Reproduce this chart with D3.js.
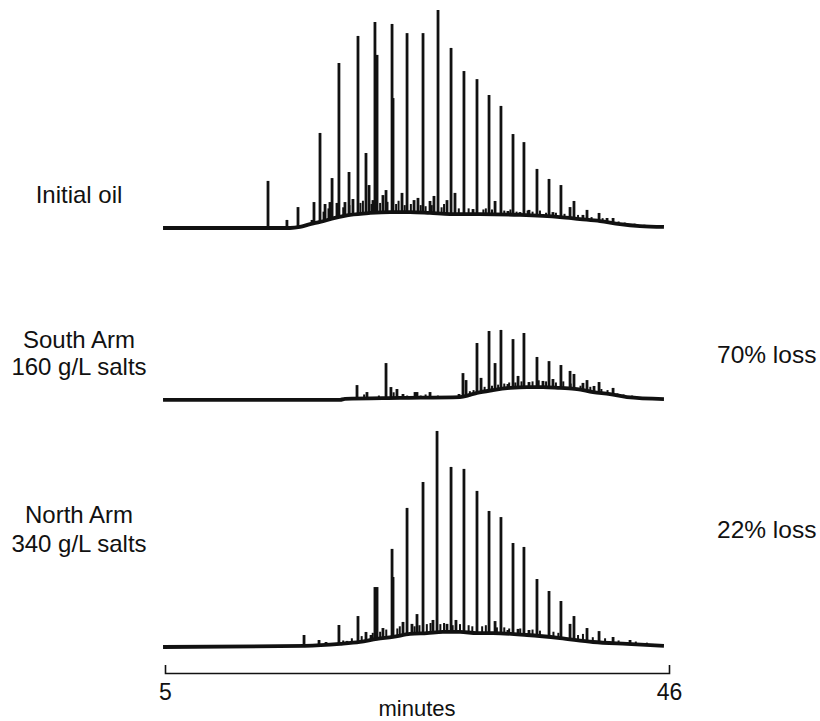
<!DOCTYPE html>
<html lang="en">
  <head>
    <meta charset="utf-8">
    <title>Chromatograms - initial oil, South Arm, North Arm</title>
    <style>
      body { margin: 0; background: #fff; }
      text { font-family: "Liberation Sans", Arial, sans-serif; fill: #111; }
    </style>
  </head>
  <body>
    <div id="container"></div>

    <script src="https://cdnjs.cloudflare.com/ajax/libs/d3/7.8.5/d3.min.js"></script>
    <script type="text/javascript">
      // retention time (min) / relative response (tallest initial-oil peak = 100)
      var initialPeaks = [
        [13.38, 21.6], [14.92, 3.7], [15.82, 9.6], [16.96, 3.7], [17.12, 11.9],
        [17.61, 43.6], [18.02, 11.0], [18.42, 11.9], [18.59, 22.9], [18.99, 11.5],
        [19.15, 75.7], [19.64, 11.9], [19.97, 25.7], [20.29, 13.3], [20.70, 88.1],
        [21.35, 34.4], [21.60, 19.7], [21.92, 12.8], [22.08, 94.5], [22.25, 79.4],
        [22.73, 15.1], [22.98, 17.4], [23.47, 93.6], [23.55, 59.6], [24.28, 16.1],
        [24.69, 89.4], [25.26, 12.8], [25.58, 13.8], [25.99, 89.4], [26.56, 12.4],
        [26.88, 14.7], [27.21, 100], [27.94, 12.8], [28.27, 82.6], [28.59, 16.1],
        [29.32, 72.0], [30.06, 8.7], [30.38, 68.3], [31.36, 61.0], [31.85, 12.4],
        [32.33, 56.0], [32.90, 7.8], [33.31, 43.1], [33.88, 7.3], [34.20, 39.4],
        [34.61, 8.3], [35.26, 27.1], [36.24, 22.5], [36.56, 7.3], [37.21, 19.7],
        [37.95, 9.6], [38.27, 12.4], [39.00, 6.0], [39.33, 8.3], [40.31, 6.9],
        [40.96, 4.6], [41.45, 4.6]
      ];
      // small unresolved spikes riding on the hump
      var initialMinor = [
        [17.9, 7.5], [18.3, 9.0], [19.5, 9.5], [20.0, 10.5], [20.9, 11.5], [21.1, 12.5],
        [21.8, 11.0], [22.5, 11.5], [23.1, 12.0], [23.8, 11.0], [24.0, 12.5], [24.5, 10.5],
        [25.0, 11.0], [25.8, 10.5], [26.2, 10.0], [26.7, 10.5], [27.5, 9.5], [27.7, 11.0],
        [28.9, 9.0], [29.7, 9.0], [30.9, 8.5], [31.1, 9.0], [31.6, 8.5], [32.6, 8.0],
        [33.1, 8.5], [33.6, 7.5], [34.5, 8.0], [34.9, 7.5], [35.5, 8.0], [36.0, 7.0],
        [36.8, 7.0], [37.5, 6.5], [38.6, 6.0], [39.7, 5.0], [40.6, 4.5], [41.9, 3.0],
        [42.4, 2.5], [43.2, 2.0], [44.0, 1.5]
      ];
      var initialHump = [
        [4.84, 0], [15.17, 0], [15.98, 0.5], [16.80, 1.8], [17.61, 2.8], [18.83, 4.6],
        [20.05, 6.0], [21.68, 6.9], [23.30, 7.3], [24.93, 7.3], [26.56, 6.9],
        [28.18, 6.4], [30.62, 6.4], [33.88, 6.0], [37.13, 5.0], [38.76, 4.1],
        [40.39, 3.2], [42.01, 1.8], [43.64, 0.9], [45.59, 0.5]
      ];

      var southPeaks = [
        [19.40, 1.4], [20.62, 7.3], [21.43, 4.1], [22.98, 17.4], [23.38, 6.4],
        [23.87, 5.5], [24.36, 3.2], [25.34, 4.1], [25.50, 4.1], [26.56, 4.1],
        [27.61, 2.3], [28.18, 2.3], [28.92, 3.2], [29.24, 12.8], [29.49, 9.6],
        [30.38, 26.6], [30.71, 10.6], [31.36, 32.1], [31.85, 17.4], [32.33, 32.6],
        [32.90, 7.8], [33.31, 28.4], [33.72, 11.5], [34.20, 31.2], [34.61, 8.7],
        [35.26, 20.2], [35.75, 9.2], [36.24, 18.3], [36.56, 10.1], [37.21, 16.5],
        [37.95, 13.8], [38.27, 12.4], [39.00, 8.3], [39.33, 9.6], [39.90, 6.9],
        [40.31, 8.7], [41.45, 6.0]
      ];
      var southMinor = [
        [21.2, 3.0], [22.4, 2.5], [23.6, 4.0], [24.7, 2.5], [25.8, 2.5], [26.2, 3.0],
        [27.2, 2.5], [29.8, 4.5], [30.1, 5.0], [31.0, 6.5], [31.6, 7.0], [32.1, 7.5],
        [32.6, 8.0], [33.0, 8.5], [33.5, 8.5], [34.0, 9.0], [34.9, 9.0], [35.4, 9.5],
        [36.0, 9.0], [36.8, 8.5], [37.4, 9.0], [38.0, 8.0], [38.8, 7.0], [39.6, 6.5],
        [40.5, 5.5], [41.0, 5.0], [41.8, 3.5], [42.3, 3.0], [43.0, 2.5]
      ];
      var southHump = [
        [4.84, 0.5], [19.24, 0.5], [19.64, 1.0], [24.12, 1.4], [29.00, 1.8],
        [29.81, 2.8], [30.38, 3.7], [31.68, 5.0], [33.07, 6.0], [34.45, 6.4],
        [35.75, 6.4], [37.13, 6.0], [38.52, 5.5], [39.82, 4.1], [41.20, 3.2],
        [42.58, 1.8], [45.59, 0.9]
      ];

      var northPeaks = [
        [16.31, 5.5], [17.53, 3.2], [18.10, 2.3], [19.15, 10.1], [19.81, 2.8],
        [20.70, 14.2], [21.35, 6.9], [21.76, 5.5], [22.08, 27.5], [22.25, 27.5],
        [22.73, 8.7], [23.47, 45.0], [23.55, 32.1], [24.36, 11.5], [24.69, 63.8],
        [25.09, 10.6], [25.50, 15.1], [25.99, 75.7], [26.80, 12.4], [27.13, 99.1],
        [27.94, 10.6], [28.27, 82.6], [28.67, 12.4], [29.32, 81.7], [30.38, 71.6],
        [31.36, 62.4], [31.85, 11.9], [32.33, 59.6], [32.90, 7.8], [33.31, 47.7],
        [33.72, 8.3], [34.20, 45.9], [34.61, 7.8], [35.26, 31.2], [35.75, 5.5],
        [36.24, 25.7], [37.21, 21.1], [37.95, 10.6], [38.27, 14.2], [39.33, 8.7],
        [40.31, 7.3], [41.45, 4.6], [42.83, 3.2]
      ];
      var northMinor = [
        [19.5, 3.0], [20.2, 4.0], [21.0, 5.0], [21.9, 6.5], [22.5, 7.0], [23.0, 8.0],
        [23.9, 8.5], [24.1, 9.5], [25.3, 9.5], [25.7, 10.0], [26.3, 10.5], [26.6, 11.0],
        [27.4, 10.5], [27.7, 11.0], [28.4, 10.0], [29.0, 10.5], [29.7, 10.0], [30.0, 9.5],
        [30.8, 9.5], [31.1, 10.0], [32.0, 9.0], [32.6, 9.0], [33.0, 8.5], [33.9, 8.5],
        [34.9, 8.0], [35.5, 7.5], [36.6, 7.0], [37.0, 6.5], [38.6, 5.5], [39.0, 6.0],
        [39.8, 4.5], [40.8, 4.0], [41.9, 3.0], [43.3, 2.5], [44.2, 2.0]
      ];
      var northHump = [
        [4.84, 0], [16.39, 0.5], [19.24, 1.4], [20.86, 2.3], [22.25, 3.7],
        [23.55, 4.6], [24.93, 6.0], [26.31, 6.4], [27.61, 6.9], [29.00, 6.9],
        [30.38, 6.4], [31.68, 6.4], [34.45, 5.5], [37.13, 4.1], [39.82, 2.3],
        [42.58, 1.4], [45.59, 0.5]
      ];

      var sampleNames = ["Initial oil", "South Arm", "North Arm"];
      var sampleSubs = ["", "160 g/L salts", "340 g/L salts"];
      var lossLabels = ["", "70% loss", "22% loss"];
      var tickValues = [5, 46];
      var axisTitle = "minutes";

      var width = 820, height = 721;

      var svg = d3.select("#container")
        .append("svg")
          .attr("width", width)
          .attr("height", height);

      var x = d3.scaleLinear().domain([5, 46]).range([165, 669]);

      // one vertical scale for all three traces, just shifted per panel
      var baselines = [228, 401, 647];
      var rel = d3.scaleLinear().domain([0, 100]).range([0, 218]);

      var panels = [
        {peaks: initialPeaks, minor: initialMinor, hump: initialHump},
        {peaks: southPeaks, minor: southMinor, hump: southHump},
        {peaks: northPeaks, minor: northMinor, hump: northHump}
      ];

      panels.forEach(function(p, i) {
        var base = baselines[i];
        var y = function(v) { return base - rel(v); };
        var g = svg.append("g").attr("class", "trace");

        // spikes from the baseline, their feet get covered by the hump below
        g.selectAll("line.minor")
          .data(p.minor)
          .enter().append("line")
            .attr("class", "minor")
            .attr("x1", function(d) { return x(d[0]); })
            .attr("x2", function(d) { return x(d[0]); })
            .attr("y1", y(0))
            .attr("y2", function(d) { return y(d[1]); })
            .style("stroke", "#111")
            .style("stroke-width", 2);

        g.selectAll("line.peak")
          .data(p.peaks)
          .enter().append("line")
            .attr("class", "peak")
            .attr("x1", function(d) { return x(d[0]); })
            .attr("x2", function(d) { return x(d[0]); })
            .attr("y1", y(0))
            .attr("y2", function(d) { return y(d[1]); })
            .style("stroke", "#111")
            .style("stroke-width", 2.8);

        g.append("path")
          .datum(p.hump)
          .attr("d", d3.area()
            .curve(d3.curveMonotoneX)
            .x(function(d) { return x(d[0]); })
            .y0(y(0) + 1)
            .y1(function(d) { return y(d[1]); }))
          .style("fill", "#fff");

        g.append("path")
          .datum(p.hump)
          .attr("d", d3.line()
            .curve(d3.curveMonotoneX)
            .x(function(d) { return x(d[0]); })
            .y(function(d) { return y(d[1]); }))
          .style("fill", "none")
          .style("stroke", "#111")
          .style("stroke-width", 3.8)
          .style("stroke-linejoin", "round");
      });

      // left hand labels
      var nameY = [203, 348, 523];
      var subY = [0, 375, 552];
      var lossY = [0, 363, 538];

      svg.selectAll("text.name")
        .data(sampleNames)
        .enter().append("text")
          .attr("class", "name")
          .attr("x", 79)
          .attr("y", function(d, i) { return nameY[i]; })
          .attr("text-anchor", "middle")
          .style("font-size", "24px")
          .text(function(d) { return d; });

      svg.selectAll("text.sub")
        .data(sampleSubs.filter(function(d) { return d; }))
        .enter().append("text")
          .attr("class", "sub")
          .attr("x", 79)
          .attr("y", function(d, i) { return subY[i + 1]; })
          .attr("text-anchor", "middle")
          .style("font-size", "24px")
          .text(function(d) { return d; });

      svg.selectAll("text.loss")
        .data(lossLabels.filter(function(d) { return d; }))
        .enter().append("text")
          .attr("class", "loss")
          .attr("x", 717)
          .attr("y", function(d, i) { return lossY[i + 1]; })
          .style("font-size", "24.5px")
          .text(function(d) { return d; });

      // bracket style time axis
      var axisY = 673;
      svg.append("g")
        .attr("transform", "translate(0," + axisY + ")")
        .call(d3.axisTop(x).tickValues([]).tickSizeOuter(8))
        .call(function(g) {
          g.select(".domain").style("stroke", "#111").style("stroke-width", 1.6);
        });

      svg.append("g")
        .attr("transform", "translate(0," + axisY + ")")
        .call(d3.axisBottom(x).tickValues(tickValues).tickSize(0).tickPadding(11))
        .call(function(g) {
          g.select(".domain").remove();
          g.selectAll("text")
            .style("font-family", "'Liberation Sans', Arial, sans-serif")
            .style("font-size", "23px")
            .style("fill", "#111");
        });

      svg.append("text")
        .attr("x", 417)
        .attr("y", 716)
        .attr("text-anchor", "middle")
        .style("font-size", "22px")
        .text(axisTitle);
    </script>
  </body>
</html>
